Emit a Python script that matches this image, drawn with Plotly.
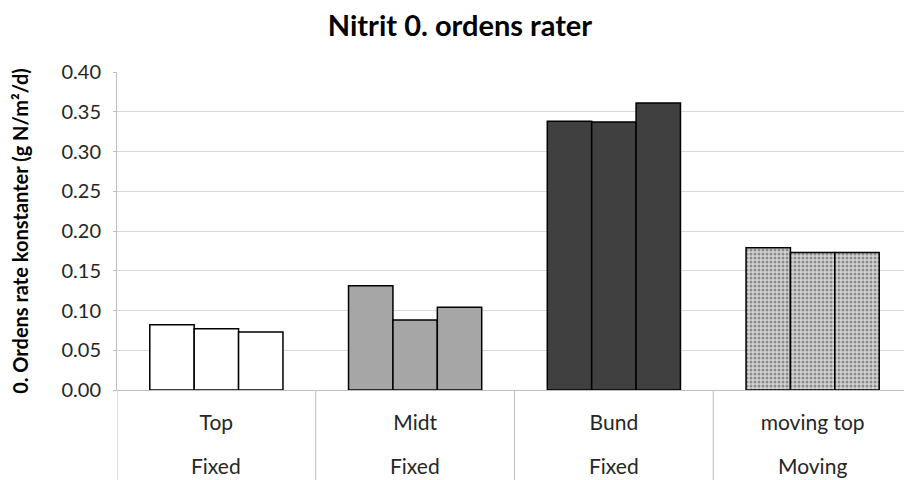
import plotly.graph_objects as go

categories = ["Top", "Midt", "Bund", "moving top"]
groups = ["Fixed", "Fixed", "Fixed", "Moving"]
rep1 = [0.082, 0.131, 0.338, 0.179]
rep2 = [0.077, 0.088, 0.337, 0.173]
rep3 = [0.073, 0.104, 0.361, 0.173]
fill_colors = ["#ffffff", "#a6a6a6", "#404040", "#d4d4d4"]
patterns = ["", "", "", "."]

FONT = "Lato, Open Sans, sans-serif"

# page body has an 8px default margin; figure is sized to fit the 912x480 window
W, H = 904, 472
ML, MR, MT, MB = 109, 0, 64, 90
plot_h = H - MT - MB

fig = go.Figure()
for vals in (rep1, rep2, rep3):
    fig.add_trace(go.Bar(
        x=categories, y=vals,
        marker=dict(
            color=fill_colors,
            line=dict(color="#000000", width=1.5),
            pattern=dict(shape=patterns, fgcolor="#000000",
                         size=4, solidity=0.45, fillmode="overlay"),
        ),
        showlegend=False,
    ))

# category dividers below the axis
for i in range(len(categories)):
    fig.add_shape(type="line", xref="x", yref="paper",
                  x0=i - 0.5, x1=i - 0.5, y0=0, y1=-MB / plot_h,
                  line=dict(color="#bfbfbf", width=1))

for i, g in enumerate(groups):
    fig.add_annotation(x=categories[i], y=-75 / plot_h, xref="x", yref="paper",
                       text=g, showarrow=False,
                       font=dict(family=FONT, size=21, color="#262626"),
                       yanchor="middle")

fig.update_layout(
    width=W, height=H,
    margin=dict(l=ML, r=MR, t=MT, b=MB),
    paper_bgcolor="#ffffff", plot_bgcolor="#ffffff",
    barmode="group", bargap=0.33, bargroupgap=0,
    title=dict(text="<b>Nitrit 0. ordens rater</b>", x=0.5, xanchor="center",
               y=1 - 18 / H, yanchor="middle",
               font=dict(family=FONT, size=29, color="#000000")),
    font=dict(family=FONT, color="#262626"),
)
fig.update_xaxes(
    type="category", showgrid=False, showline=True, linecolor="#bfbfbf", linewidth=1,
    ticks="outside", ticklen=14, tickcolor="rgba(0,0,0,0)",
    tickfont=dict(family=FONT, size=21, color="#262626"),
    range=[-0.5, 3.5], automargin=False,
)
fig.update_yaxes(
    range=[0, 0.40], dtick=0.05, tickformat=".2f",
    showgrid=True, gridcolor="#d9d9d9", gridwidth=1,
    showline=True, linecolor="#bfbfbf", linewidth=1,
    ticks="outside", ticklen=3, tickcolor="#bfbfbf",
    ticklabelstandoff=8,
    tickfont=dict(family=FONT, size=20, color="#262626"),
    zeroline=False, automargin=False,
    title=dict(text="<b>0. Ordens rate konstanter (g N/m²/d)</b>", standoff=30,
               font=dict(family=FONT, size=20, color="#000000")),
)

fig.write_html("out.html")
